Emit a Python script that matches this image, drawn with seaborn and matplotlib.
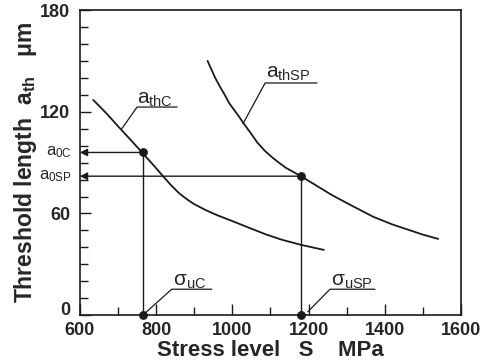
import numpy as np
import pandas as pd
import seaborn as sns
import matplotlib.pyplot as plt
from matplotlib.transforms import ScaledTranslation

# curves
athC_x = [635, 670, 700, 735, 765, 795, 820, 840, 860, 880, 900, 930, 960,
          1000, 1050, 1090, 1130, 1180, 1240]
athC_y = [127, 119, 111.5, 103, 95.5, 88, 81.5, 76.5, 72, 68.5, 65.5, 62, 59,
          55.5, 51, 47.5, 44.5, 41.5, 38.5]
athSP_x = [935, 945, 955, 967, 980, 992, 1005, 1018, 1030, 1048, 1065, 1085,
           1105, 1122, 1140, 1160, 1180, 1220, 1260, 1310, 1370, 1420, 1460, 1500, 1540]
athSP_y = [150, 145, 140, 135, 130, 125, 121, 117, 113, 107.5, 102, 97,
           93, 90, 87, 84.5, 82, 76.5, 71, 65, 58, 53.5, 50.5, 47.5, 45]

# marked points
sigma_uC, a_0C = 765, 96
sigma_uSP, a_0SP = 1180, 82

x_ticks = [600, 800, 1000, 1200, 1400, 1600]
y_ticks = [0, 60, 120, 180]

sns.set_theme(style="ticks")
plt.rcParams['font.family'] = ['Liberation Sans', 'DejaVu Sans']
plt.rcParams['mathtext.fontset'] = 'custom'
plt.rcParams['mathtext.rm'] = 'Liberation Sans'
plt.rcParams['mathtext.it'] = 'Liberation Sans'
plt.rcParams['mathtext.bf'] = 'Liberation Sans:bold'

fig = plt.figure(figsize=(4.9, 3.61), dpi=100)
ax = fig.add_axes([0.163, 0.127, 0.778, 0.845])

dfC = pd.DataFrame({'s': athC_x, 'a': athC_y})
dfSP = pd.DataFrame({'s': athSP_x, 'a': athSP_y})
sns.lineplot(data=dfC, x='s', y='a', color='k', lw=1.3, sort=False, ax=ax)
sns.lineplot(data=dfSP, x='s', y='a', color='k', lw=1.3, sort=False, ax=ax)

# vertical drop lines and arrows to the axis
for s, a in [(sigma_uC, a_0C), (sigma_uSP, a_0SP)]:
    ax.plot([s, s], [0, a], color='k', lw=1.0)
    ax.annotate('', xy=(600, a), xytext=(s, a),
                arrowprops=dict(arrowstyle='-|>', color='k', lw=1.0,
                                mutation_scale=11, shrinkA=0, shrinkB=0))
pts = pd.DataFrame({'s': [sigma_uC, sigma_uSP, sigma_uC, sigma_uSP],
                    'a': [a_0C, a_0SP, 0, 0]})
sns.scatterplot(data=pts, x='s', y='a', color='k', s=34, edgecolor='k',
                zorder=5, clip_on=False, ax=ax)

# curve labels with leader lines
ax.text(750, 125, r'$\mathrm{a}_{\mathrm{thC}}$', fontsize=15, ha='left', va='baseline')
ax.plot([710, 750, 855], [110, 122.8, 122.8], color='k', lw=0.9)
ax.text(1088, 140, r'$\mathrm{a}_{\mathrm{thSP}}$', fontsize=15, ha='left', va='baseline')
ax.plot([1028, 1086, 1222], [113, 137, 137], color='k', lw=0.9)
ax.text(843, 17.5, r'$\mathrm{\sigma}_{\mathrm{uC}}$', fontsize=15, ha='left', va='baseline')
ax.plot([770, 841, 946], [1, 15.3, 15.3], color='k', lw=0.9)
ax.text(1258, 17.5, r'$\mathrm{\sigma}_{\mathrm{uSP}}$', fontsize=15, ha='left', va='baseline')
ax.plot([1198, 1256, 1374], [2, 15.3, 15.3], color='k', lw=0.9)

# labels left of the axis
ax.text(579, a_0C, r'$\mathrm{a}_{\mathrm{0C}}$', fontsize=12, ha='right', va='center', clip_on=False)
ax.text(579, a_0SP, r'$\mathrm{a}_{\mathrm{0SP}}$', fontsize=12, ha='right', va='center', clip_on=False)

ax.set_xlim(600, 1600)
ax.set_ylim(0, 180)
ax.set_xticks(x_ticks)
ax.set_yticks(y_ticks)
ax.set_xticks(range(700, 1600, 200), minor=True)
ax.set_yticks([v for v in range(0, 181, 10) if v not in y_ticks], minor=True)
ax.set_xticklabels([str(v) for v in x_ticks], fontsize=13, fontweight='bold')
ax.set_yticklabels([str(v) for v in y_ticks], fontsize=13, fontweight='bold')
ax.tick_params(which='major', direction='in', length=8, width=1.0, color='k', pad=5)
ax.tick_params(which='minor', direction='in', length=6, width=1.0, color='k')
ax.tick_params(axis='y', which='major', pad=7)
# nudge the "0" label up so it clears "600"
lab0 = ax.get_yticklabels()[0]
lab0.set_transform(lab0.get_transform() + ScaledTranslation(0, 5 / 72, fig.dpi_scale_trans))
for sp in ax.spines.values():
    sp.set_visible(True)
    sp.set_color('k')
    sp.set_linewidth(1.2)

ax.set_xlabel('Stress level   S    MPa', fontsize=16, fontweight='bold', labelpad=1)
ax.set_ylabel(r'Threshold length  $\mathbf{a}_{\mathbf{th}}$   μm', fontsize=16.5,
              fontweight='bold', labelpad=1)

fig.savefig('out.png', dpi=100)
